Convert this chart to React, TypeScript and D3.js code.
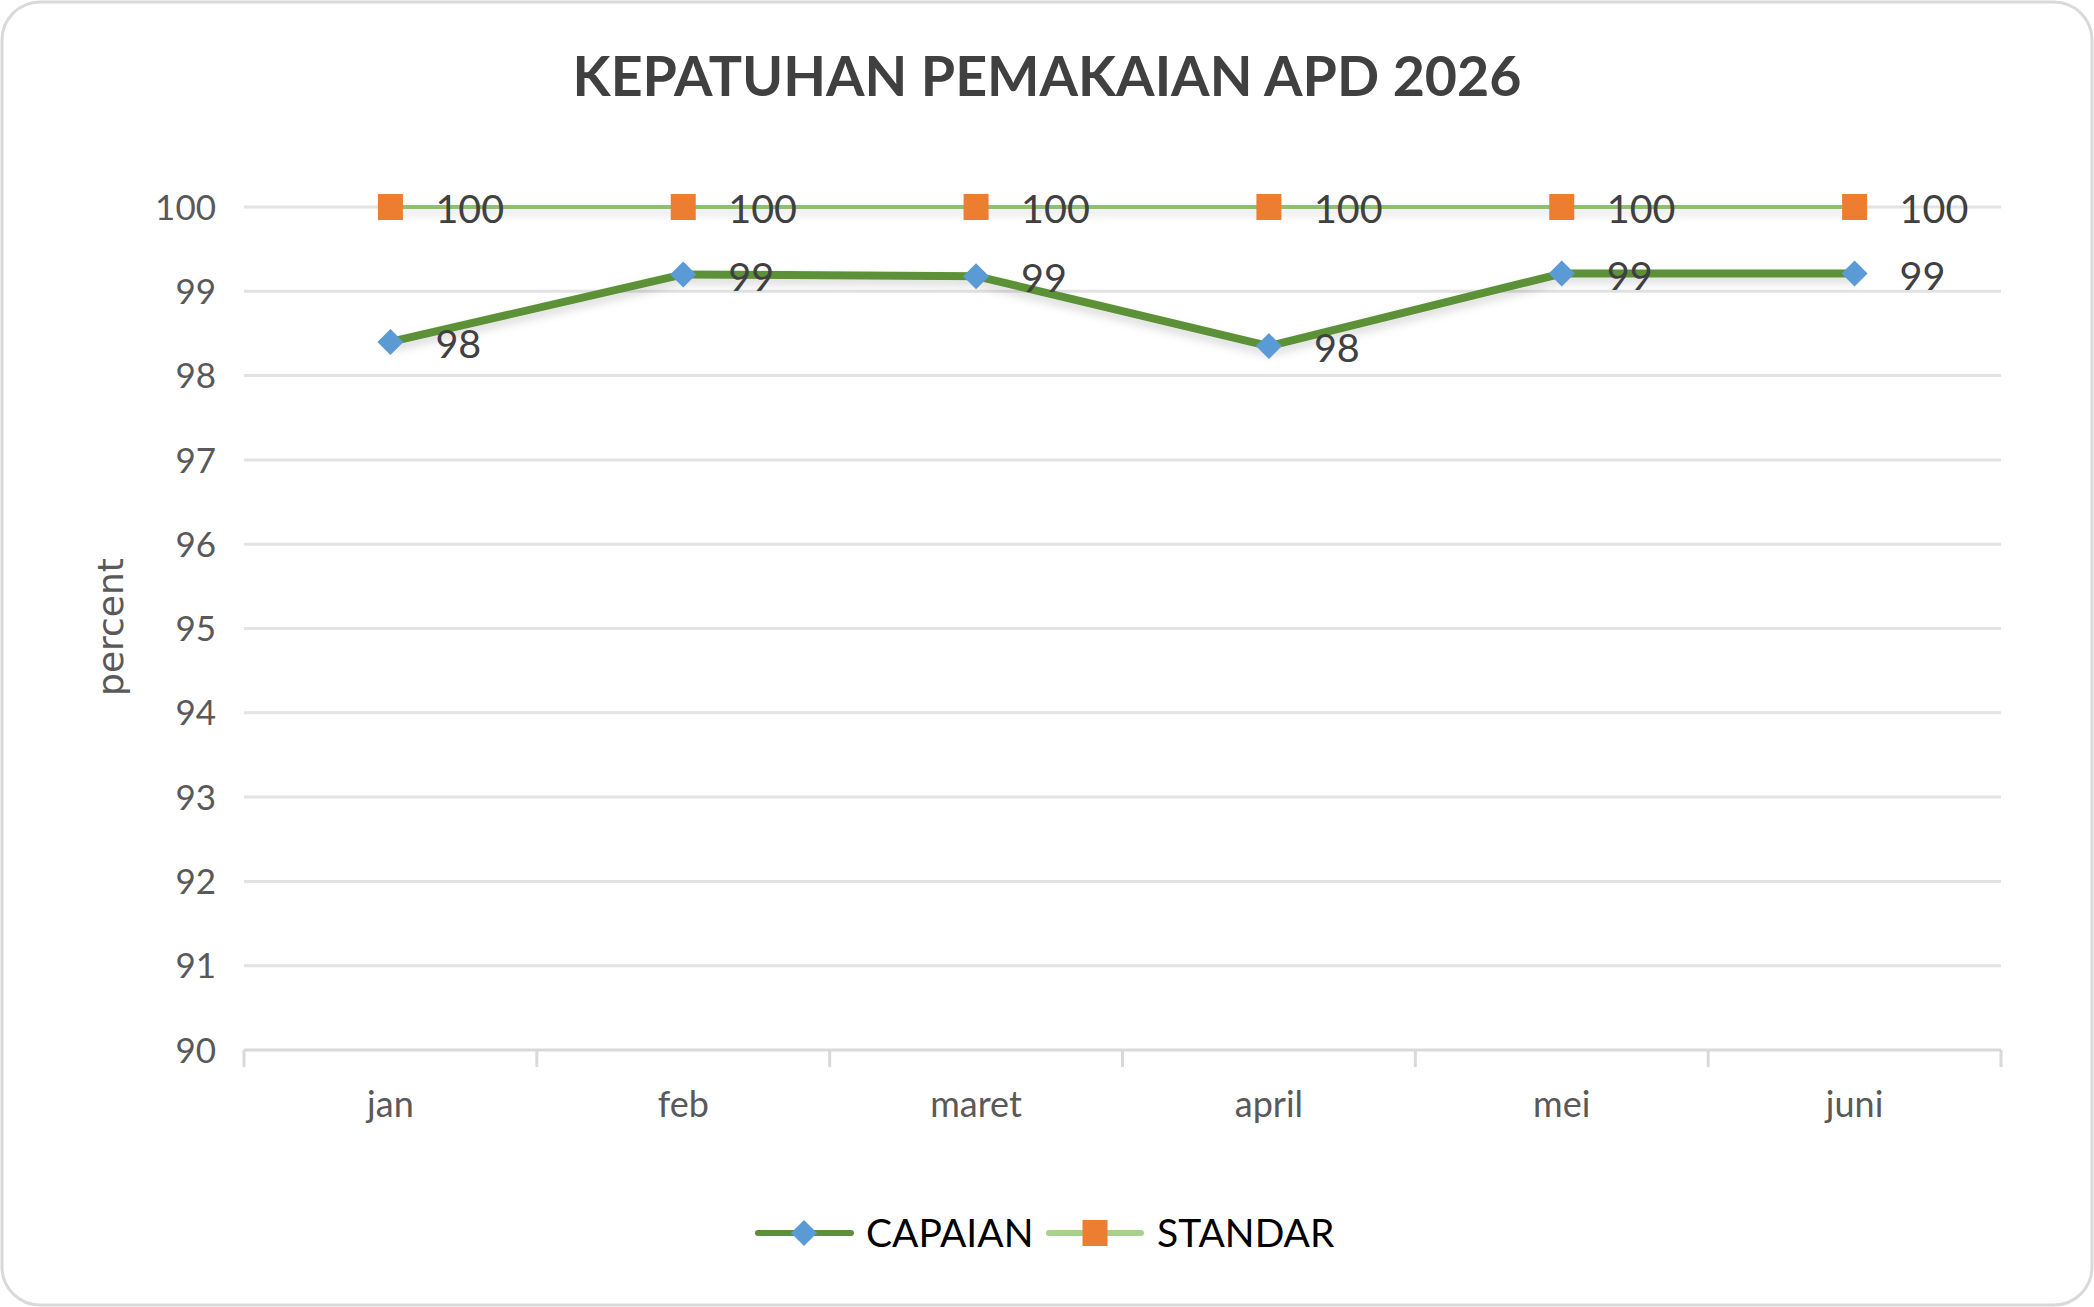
import { useEffect, useRef } from 'react'
import * as d3 from 'd3'

const months = ['jan', 'feb', 'maret', 'april', 'mei', 'juni']
const capaian = [98.4, 99.2, 99.18, 98.35, 99.21, 99.21]
const standar = [100, 100, 100, 100, 100, 100]
const yTicks = [90, 91, 92, 93, 94, 95, 96, 97, 98, 99, 100]

const W = 2094
const H = 1307
const FONT = 'Lato, "Open Sans", sans-serif'

export default function App() {
  const svgRef = useRef<SVGSVGElement>(null)

  useEffect(() => {
    if (!svgRef.current) return
    const svg = d3.select(svgRef.current)
    svg.selectAll('*').remove()

    const margin = { top: 207, right: 93, bottom: 257, left: 244 }
    const chartW = W - margin.left - margin.right
    const chartH = H - margin.top - margin.bottom

    const x = d3.scaleBand().domain(months).range([0, chartW]).padding(0)
    const y = d3.scaleLinear().domain([90, 100]).range([chartH, 0])
    const cx = (m: string) => x(m)! + x.bandwidth() / 2

    // drop shadow for the series lines (user space so flat lines still render)
    const defs = svg.append('defs')
    const f = defs.append('filter').attr('id', 'shadow')
      .attr('filterUnits', 'userSpaceOnUse')
      .attr('x', -50).attr('y', -50).attr('width', chartW + 100).attr('height', chartH + 100)
    f.append('feDropShadow').attr('dx', 0).attr('dy', 5).attr('stdDeviation', 5)
      .attr('flood-color', '#000').attr('flood-opacity', 0.16)

    // chart frame
    svg.append('rect')
      .attr('x', 2).attr('y', 2).attr('width', W - 4).attr('height', H - 4)
      .attr('rx', 38)
      .attr('fill', '#fff').attr('stroke', '#D9D9D9').attr('stroke-width', 3)

    svg.append('text')
      .attr('x', 1047).attr('y', 96)
      .attr('text-anchor', 'middle')
      .attr('font-family', FONT).attr('font-weight', 700).attr('font-size', 55.5)
      .attr('fill', '#404040')
      .text('KEPATUHAN PEMAKAIAN APD 2026')

    const g = svg.append('g').attr('transform', `translate(${margin.left},${margin.top})`)

    // gridlines + y labels
    g.selectAll('.grid').data(yTicks.filter(t => t > 90)).enter().append('line')
      .attr('x1', 0).attr('x2', chartW)
      .attr('y1', d => y(d)).attr('y2', d => y(d))
      .attr('stroke', '#E3E3E3').attr('stroke-width', 3)

    g.selectAll('.ylab').data(yTicks).enter().append('text')
      .attr('x', -28).attr('y', d => y(d)).attr('dy', '0.36em')
      .attr('text-anchor', 'end')
      .attr('font-family', FONT).attr('font-size', 35).attr('fill', '#595959')
      .text(d => d)

    // x axis
    g.append('line')
      .attr('x1', 0).attr('x2', chartW).attr('y1', chartH).attr('y2', chartH)
      .attr('stroke', '#D9D9D9').attr('stroke-width', 3)
    const bounds = months.map(m => x(m)!).concat([chartW])
    g.selectAll('.xtick').data(bounds).enter().append('line')
      .attr('x1', d => d).attr('x2', d => d)
      .attr('y1', chartH).attr('y2', chartH + 17)
      .attr('stroke', '#D9D9D9').attr('stroke-width', 3)

    g.selectAll('.xlab').data(months).enter().append('text')
      .attr('x', d => cx(d)).attr('y', chartH + 54).attr('dy', '0.36em')
      .attr('text-anchor', 'middle')
      .attr('font-family', FONT).attr('font-size', 36).attr('fill', '#595959')
      .text(d => d)

    // axis title
    svg.append('text')
      .attr('transform', 'translate(123,627) rotate(-90)')
      .attr('text-anchor', 'middle')
      .attr('font-family', '"DejaVu Sans", sans-serif').attr('font-size', 36)
      .attr('fill', '#595959')
      .text('percent')

    const line = d3.line<number>().x((_, i) => cx(months[i])).y(d => y(d))

    // STANDAR
    g.append('path').datum(standar)
      .attr('d', line).attr('fill', 'none')
      .attr('stroke', '#8FBF72').attr('stroke-width', 4)
      .attr('filter', 'url(#shadow)')
    // CAPAIAN
    g.append('path').datum(capaian)
      .attr('d', line).attr('fill', 'none')
      .attr('stroke', '#5B9138').attr('stroke-width', 8)
      .attr('stroke-linejoin', 'round')
      .attr('filter', 'url(#shadow)')

    g.selectAll('.sq').data(standar).enter().append('rect')
      .attr('x', (_, i) => cx(months[i]) - 12.5).attr('y', d => y(d) - 13)
      .attr('width', 25).attr('height', 26)
      .attr('fill', '#ED7D31')

    const diamond = (px: number, py: number) =>
      `M${px},${py - 13}L${px + 13},${py}L${px},${py + 13}L${px - 13},${py}Z`
    g.selectAll('.dm').data(capaian).enter().append('path')
      .attr('d', (d, i) => diamond(cx(months[i]), y(d)))
      .attr('fill', '#5B9BD5')

    // data labels
    const labels = (data: number[]) =>
      g.selectAll(null).data(data).enter().append('text')
        .attr('x', (_, i) => cx(months[i]) + 45).attr('y', d => y(d) + 2).attr('dy', '0.36em')
        .attr('font-family', FONT).attr('font-size', 39.5).attr('fill', '#404040')
        .text(d => Math.round(d))
    labels(standar)
    labels(capaian)

    // legend
    const lg = svg.append('g').attr('transform', 'translate(0,1233)')
    lg.append('line').attr('x1', 758).attr('x2', 851).attr('y1', 0).attr('y2', 0)
      .attr('stroke', '#5B9138').attr('stroke-width', 6).attr('stroke-linecap', 'round')
    lg.append('path').attr('d', diamond(804, 0)).attr('fill', '#5B9BD5')
    lg.append('text').attr('x', 866).attr('y', 0).attr('dy', '0.36em')
      .attr('font-family', FONT).attr('font-size', 39).attr('fill', '#000')
      .text('CAPAIAN')
    lg.append('line').attr('x1', 1049).attr('x2', 1141).attr('y1', 0).attr('y2', 0)
      .attr('stroke', '#A9D18E').attr('stroke-width', 6).attr('stroke-linecap', 'round')
    lg.append('rect').attr('x', 1095 - 12.5).attr('y', -13).attr('width', 25).attr('height', 26)
      .attr('fill', '#ED7D31')
    lg.append('text').attr('x', 1157).attr('y', 0).attr('dy', '0.36em')
      .attr('font-family', FONT).attr('font-size', 39).attr('fill', '#000')
      .text('STANDAR')
  }, [])

  return (
    <svg
      ref={svgRef}
      width={W}
      height={H}
      style={{ position: 'absolute', left: 0, top: 0 }}
    />
  )
}
